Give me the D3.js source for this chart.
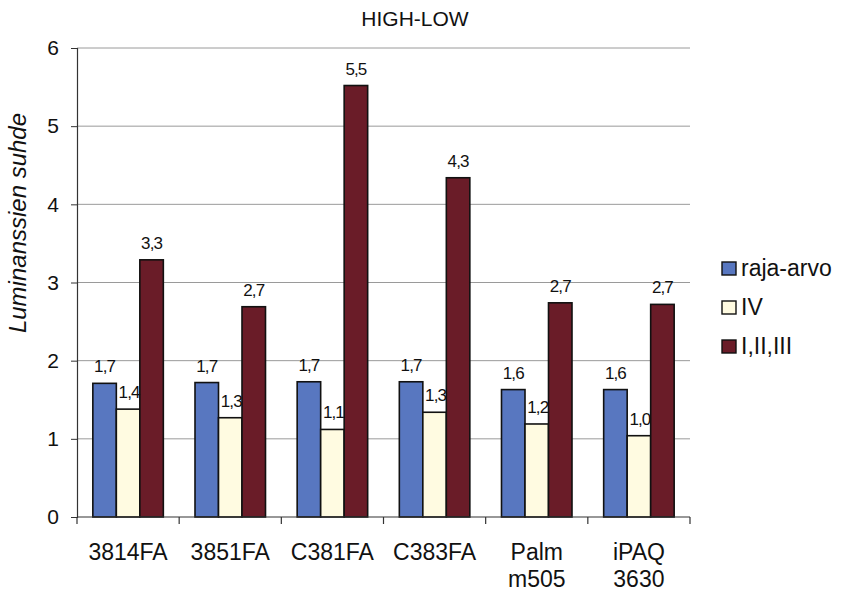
<!DOCTYPE html>
<html>
<head>
<meta charset="utf-8">
<script src="https://cdn.jsdelivr.net/npm/d3@7"></script>
<style>
  body { margin: 0; background: #fff; }
  svg { display: block; font-family: "Liberation Sans", Arial, sans-serif; }
</style>
</head>
<body>
<svg id="chart" width="841" height="593"></svg>
<script>
// Device categories (multi-line labels split on "\n")
const categories = ["3814FA", "3851FA", "C381FA", "C383FA", "Palm\nm505", "iPAQ\n3630"];
// Luminance ratios per series
const rajaArvo = [1.71, 1.72, 1.73, 1.73, 1.63, 1.63];
const iv       = [1.38, 1.27, 1.12, 1.34, 1.19, 1.04];
const i_ii_iii = [3.29, 2.69, 5.52, 4.34, 2.74, 2.72];
const seriesNames = ["raja-arvo", "IV", "I,II,III"];
const seriesColors = ["#5877c0", "#fffbe1", "#6a1c28"];
const yTicks = [0, 1, 2, 3, 4, 5, 6];

const seriesValues = [rajaArvo, iv, i_ii_iii];
const rows = categories.map((c, i) => ({
  cat: c,
  values: seriesNames.map((s, k) => ({ key: s, k, value: seriesValues[k][i] }))
}));

const svg = d3.select("#chart");
const margin = { left: 77, right: 151, top: 48, bottom: 76 };
const W = 841, H = 593;
const iw = W - margin.left - margin.right;
const ih = H - margin.top - margin.bottom;

const g = svg.append("g").attr("transform", `translate(${margin.left},${margin.top})`);

const x0 = d3.scaleBand().domain(categories).range([0, iw]).paddingInner(0.31).paddingOuter(0.155);
const x1 = d3.scaleBand().domain(seriesNames).range([0, x0.bandwidth()]);
const y = d3.scaleLinear().domain([0, 6]).range([ih, 0]);
const color = d3.scaleOrdinal().domain(seriesNames).range(seriesColors);
const fmt = v => d3.format(".1f")(v).replace(".", ",");

// horizontal gridlines
g.append("g")
  .selectAll("line")
  .data(yTicks.filter(t => t > 0))
  .join("line")
  .attr("x1", 0).attr("x2", iw)
  .attr("y1", d => y(d)).attr("y2", d => y(d))
  .attr("stroke", "#9a9a9a").attr("stroke-width", 1);

// bars
const groups = g.append("g").selectAll("g")
  .data(rows)
  .join("g")
  .attr("transform", d => `translate(${x0(d.cat)},0)`);

groups.selectAll("rect")
  .data(d => d.values)
  .join("rect")
  .attr("x", d => x1(d.key))
  .attr("width", x1.bandwidth())
  .attr("y", d => y(d.value))
  .attr("height", d => y(0) - y(d.value))
  .attr("fill", d => color(d.key))
  .attr("stroke", "#111")
  .attr("stroke-width", 1.6);

// value labels
groups.selectAll("text")
  .data(d => d.values)
  .join("text")
  .attr("x", d => x1(d.key) + x1.bandwidth() / 2 + (d.k === 1 ? 1 : 0))
  .attr("y", d => y(d.value) - 11)
  .attr("text-anchor", "middle")
  .attr("font-size", 17)
  .attr("letter-spacing", "-0.9")
  .attr("fill", "#111")
  .text(d => fmt(d.value));

// y axis
const yAxis = g.append("g")
  .call(d3.axisLeft(y).tickValues(yTicks).tickSize(6).tickPadding(12).tickFormat(d3.format("d")));
yAxis.select(".domain").attr("stroke", "#333").attr("stroke-width", 1.2);
yAxis.selectAll(".tick line").attr("stroke", "#333");
yAxis.selectAll("text").attr("font-size", 21).attr("fill", "#111")
  .attr("font-family", "Liberation Sans, Arial, sans-serif");

// x axis: baseline plus boundary ticks between categories
const xg = g.append("g").attr("transform", `translate(0,${ih})`);
xg.append("line").attr("x1", 0).attr("x2", iw).attr("stroke", "#333").attr("stroke-width", 1.2);
const step = x0.step();
const bounds = d3.range(categories.length + 1).map(i => i === categories.length ? iw : x0(categories[i]) - x0.paddingInner() * step / 2);
bounds[0] = 0;
xg.selectAll("line.tick").data(bounds).join("line").attr("class", "tick")
  .attr("x1", d => d).attr("x2", d => d).attr("y1", 0).attr("y2", 7)
  .attr("stroke", "#333").attr("stroke-width", 1.2);

const catText = xg.selectAll("text.cat").data(categories).join("text").attr("class", "cat")
  .attr("x", d => x0(d) + x0.bandwidth() / 2)
  .attr("y", 43)
  .attr("text-anchor", "middle")
  .attr("font-size", 23)
  .attr("fill", "#111");
catText.each(function(d) {
  const lines = d.split("\n");
  d3.select(this).selectAll("tspan").data(lines).join("tspan")
    .attr("x", x0(d) + x0.bandwidth() / 2)
    .attr("dy", (l, i) => i === 0 ? 0 : 27)
    .text(l => l);
});

// title
svg.append("text")
  .attr("x", 415).attr("y", 26)
  .attr("text-anchor", "middle")
  .attr("font-size", 21)
  .attr("fill", "#111")
  .text("HIGH-LOW");

// y axis title
svg.append("text")
  .attr("transform", "translate(26,223) rotate(-90)")
  .attr("text-anchor", "middle")
  .attr("font-size", 24)
  .attr("font-style", "italic")
  .attr("fill", "#111")
  .text("Luminanssien suhde");

// legend
const legend = svg.append("g").attr("transform", "translate(722,262)");
const li = legend.selectAll("g").data(seriesNames).join("g")
  .attr("transform", (d, i) => `translate(0,${i * 39})`);
li.append("rect").attr("width", 14).attr("height", 13)
  .attr("fill", d => color(d)).attr("stroke", "#111").attr("stroke-width", 1.4);
li.append("text").attr("x", 19).attr("y", 14)
  .attr("font-size", 23).attr("fill", "#111")
  .text(d => d);
</script>
</body>
</html>
